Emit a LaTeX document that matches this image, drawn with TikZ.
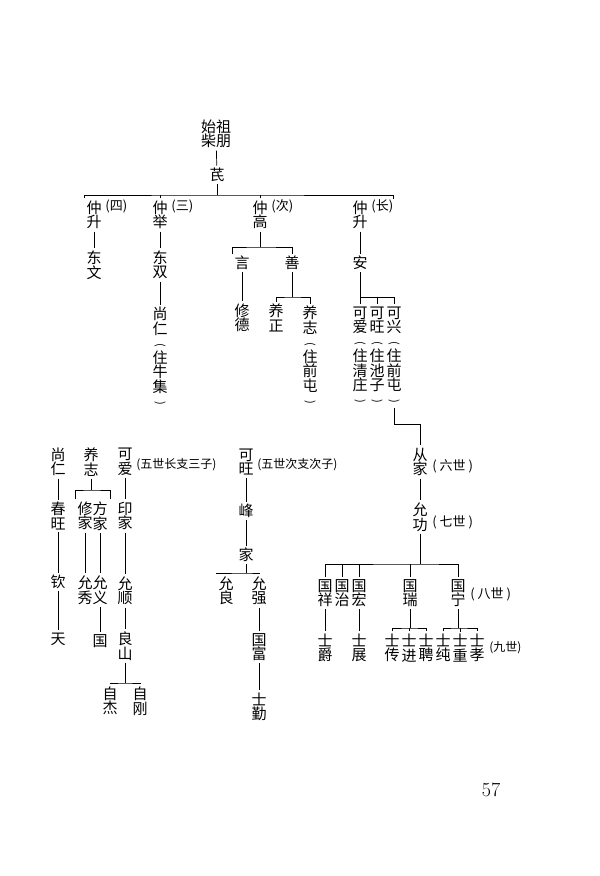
\documentclass[tikz,border=0pt]{standalone}
\usepackage{fontspec}
\newfontfamily\cjk{Noto Sans CJK SC}
\usetikzlibrary{positioning}

% vertical brackets round the place names
\newcommand{\vopen}{\rotatebox[origin=c]{-90}{\fontsize{11}{11}\selectfont(}}
\newcommand{\vclose}{\rotatebox[origin=c]{-90}{\fontsize{11}{11}\selectfont)}}

\tikzset{
	nm/.style={inner sep=2.2pt, align=center, font=\cjk\fontsize{15}{14.5}\selectfont},
	ann/.style={inner sep=0pt, font=\cjk\fontsize{13}{13}\selectfont},
	sml/.style={inner sep=0pt, font=\cjk\fontsize{12}{12}\selectfont},
}

\begin{document}
\begin{tikzpicture}[x=1pt,y=-1pt,line width=0.7pt]
		\fill[white] (0,0) rectangle (600,876);
		\useasboundingbox (0,0) rectangle (600,876);
		% top of the tree
		\node[nm] at (216,134) (z) {始祖\\柴朋};
		\node[nm] at (217,175) (q) {芪};
		\draw[-] (z) to (q);
		\coordinate (j1) at (217,195);
		\node[nm] at (94,215) (g4) {仲\\升};
		\node[ann, right = 1pt of g4.north east, yshift=-8pt] (g4a) {(四)};
		\node[nm] at (160,215) (g3) {仲\\举};
		\node[ann, right = 1pt of g3.north east, yshift=-8pt] (g3a) {(三)};
		\node[nm] at (260,215) (g2) {仲\\高};
		\node[ann, right = 1pt of g2.north east, yshift=-8pt] (g2a) {(次)};
		\node[nm] at (360,215) (g1) {仲\\升};
		\node[ann, right = 1pt of g1.north east, yshift=-8pt] (g1a) {(长)};
		\draw[-] (q) to (j1);
		\draw[-] (g4.north west) |- (j1) -| (g1a.north east);
		\draw[-] (g3.north) to (g3.north |- j1);
		\draw[-] (g2.north) to (g2.north |- j1);
		% fourth and third sons
		\node[nm] at (94,265) (d4) {东\\文};
		\draw[-] (g4) to (d4);
		\node[nm] at (160,265) (d3) {东\\双};
		\node[nm] at (160,357) (s3) {尚\\仁\\\vopen\\住\\牛\\集\\\vclose};
		\draw[-] (g3) to (d3);
		\draw[-] (d3) to (s3);
		% second son
		\node[nm] at (242,263) (yn) {言};
		\node[nm] at (292,263) (sh) {善};
		\coordinate (j2) at (260,247);
		\draw[-] (g2) to (j2);
		\draw[-] (yn.north west) |- (j2) -| (sh.north);
		\node[nm] at (242,318) (xd) {修\\德};
		\draw[-] (yn) to (xd);
		\node[nm] at (276,318) (yz) {养\\正};
		\node[nm] at (310,356) (yzh) {养\\志\\\vopen\\住\\前\\屯\\\vclose};
		\coordinate (j3) at (292,297);
		\draw[-] (sh) to (j3);
		\draw[-] (yz.north) |- (j3) -| (yzh.north);
		% eldest son
		\node[nm] at (360,263) (an) {安};
		\draw[-] (g1) to (an);
		\node[nm] at (360,356) (ka) {可\\爱\\\vopen\\住\\清\\庄\\\vclose};
		\node[nm] at (377,356) (kw) {可\\旺\\\vopen\\住\\池\\子\\\vclose};
		\node[nm] at (394,356) (kx) {可\\兴\\\vopen\\住\\前\\屯\\\vclose};
		\coordinate (j4) at (360,297);
		\draw[-] (an) to (j4);
		\draw[-] (ka.north) |- (j4) -| (kx.north);
		\draw[-] (kw.north) to (kw.north |- j4);
		% lower left branches
		\node[nm] at (58,462) (sr) {尚\\仁};
		\node[nm] at (58,516) (cw) {春\\旺};
		\node[nm] at (58,582) (qn) {钦};
		\node[nm] at (58,639) (tn) {天};
		\draw[-] (sr) to (cw);
		\draw[-] (cw) to (qn);
		\draw[-] (qn) to (tn);
		\node[nm] at (91,462) (yl) {养\\志};
		\coordinate (j6) at (91,490);
		\node[nm] at (85,516) (xj) {修\\家};
		\node[nm] at (100,516) (fj) {方\\家};
		\draw[-] (yl) to (j6);
		\draw[-] (xj.north west) |- (j6) -| (fj.north east);
		\node[nm] at (85,590) (yx) {允\\秀};
		\node[nm] at (100,590) (yy) {允\\义};
		\node[nm] at (100,641) (gu) {国};
		\draw[-] (xj) to (yx);
		\draw[-] (fj) to (yy);
		\draw[-] (yy) to (gu);
		\node[nm] at (125,462) (kl) {可\\爱};
		\node[sml, right = 1pt of kl, yshift=-3pt] (kla) {(五世长支三子)};
		\node[nm] at (125,516) (yj) {印\\家};
		\node[nm] at (125,591) (ysh) {允\\顺};
		\node[nm] at (125,646) (lsh) {良\\山};
		\draw[-] (kl) to (yj);
		\draw[-] (yj) to (ysh);
		\draw[-] (ysh) to (lsh);
		\coordinate (j7) at (125,683);
		\node[nm] at (110,701) (zj) {自\\杰};
		\node[nm] at (140,701) (zg) {自\\刚};
		\draw[-] (lsh) to (j7);
		\draw[-] (zj.north) |- (j7) -| (zg.north);
		% middle branch
		\node[nm] at (246,462) (kv) {可\\旺};
		\node[sml, right = 1pt of kv, yshift=-3pt] (kva) {(五世次支次子)};
		\node[nm] at (246,511) (fg) {峰};
		\node[nm] at (246,555) (jy) {家};
		\draw[-] (kv) to (fg);
		\draw[-] (fg) to (jy);
		\coordinate (j8) at (246,573);
		\node[nm] at (226,591) (yln) {允\\良};
		\node[nm] at (259,591) (yq) {允\\强};
		\draw[-] (jy) to (j8);
		\draw[-] (yln.north west) |- (j8) -| (yq.north);
		\node[nm] at (259,647) (gf) {国\\富};
		\node[nm] at (259,707) (sq) {士\\勤};
		\draw[-] (yq) to (gf);
		\draw[-] (gf) to (sq);
		% right branch
		\node[nm] at (420,462) (cj) {从\\家};
		\node[ann, right = 2pt of cj, yshift=-4pt] (cja) {(\ 六世\ )};
		\coordinate (j5) at (420,424);
		\draw[-] (kx) |- (j5) -- (cj);
		\node[nm] at (420,517) (yg) {允\\功};
		\node[ann, right = 2pt of yg, yshift=-5pt] (yga) {(\ 七世\ )};
		\draw[-] (cj) to (yg);
		\coordinate (j9) at (420,564);
		\node[nm] at (325,593) (gx) {国\\祥};
		\node[nm] at (342,593) (gz) {国\\治};
		\node[nm] at (359,593) (gh) {国\\宏};
		\node[nm] at (410,593) (gr) {国\\瑞};
		\node[nm] at (458,593) (gn) {国\\宁};
		\node[ann, right = 2pt of gn, yshift=-1pt] (gna) {(\ 八世\ )};
		\draw[-] (yg) to (j9);
		\draw[-] (gx.north) |- (j9) -| (gn.north);
		\draw[-] (gz.north) to (gz.north |- j9);
		\draw[-] (gh.north) to (gh.north |- j9);
		\draw[-] (gr.north) to (gr.north |- j9);
		\node[nm] at (325,648) (sj) {士\\爵};
		\node[nm] at (359,648) (sz) {士\\展};
		\draw[-] (gx) to (sj);
		\draw[-] (gh) to (sz);
		\coordinate (j10) at (410,628);
		\node[nm] at (392,648) (sc) {士\\传};
		\node[nm] at (409,648) (sjn) {士\\进};
		\node[nm] at (426,648) (sp) {士\\聘};
		\draw[-] (gr) to (j10);
		\draw[-] (sc.north) |- (j10) -| (sp.north);
		\draw[-] (sjn.north) to (sjn.north |- j10);
		\coordinate (j11) at (458,628);
		\node[nm] at (443,648) (sch) {士\\纯};
		\node[nm] at (460,648) (szh) {士\\重};
		\node[nm] at (477,648) (sx) {士\\孝};
		\node[sml, right = 2pt of sx] (sxa) {(九世)};
		\draw[-] (gn) to (j11);
		\draw[-] (sch.north) |- (j11) -| (sx.north);
		\draw[-] (szh.north) to (szh.north |- j11);
		% page number
		\node[font=\fontsize{20}{20}\selectfont] at (491,790) (pg) {57};
	\end{tikzpicture}
\end{document}
